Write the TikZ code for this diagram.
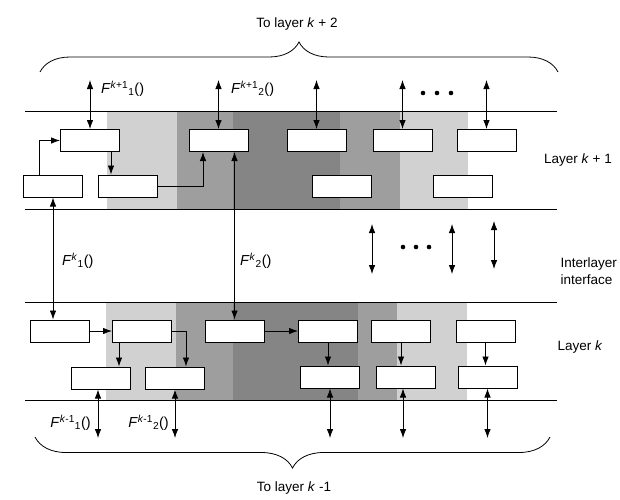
\documentclass[tikz,border=0pt]{standalone}
\usepackage{fontspec}
\setmainfont{Liberation Sans}
\usetikzlibrary{arrows.meta}
\usetikzlibrary{decorations.pathreplacing}

\begin{document}
\begin{tikzpicture}[x=1pt, y=-1pt, font=\fontsize{13.5}{17}\selectfont]
 \tikzstyle{fbox}=[rectangle, draw, fill=white, line width=1pt, minimum width=59pt, minimum height=22pt, inner sep=0pt]
 \tikzstyle{line}=[draw, line width=0.8pt, -{Latex[length=9pt, width=6.5pt]}]
 \tikzstyle{dline}=[draw, line width=0.8pt, {Latex[length=9pt, width=6.5pt]}-{Latex[length=9pt, width=6.5pt]}]
 \tikzstyle{layer}=[draw, line width=1pt]
 \tikzstyle{flabel}=[inner sep=0pt, font=\fontsize{14.5}{16}\selectfont]
 \colorlet{lightband}{black!18}
 \colorlet{midband}{black!38}
 \colorlet{darkband}{black!48}

 \useasboundingbox (0,0) rectangle (620,499);

 % shading, layer k+1
 \fill[lightband] (107,111) rectangle (177,209);
 \fill[midband] (177,111) rectangle (233,209);
 \fill[darkband] (233,111) rectangle (340,209);
 \fill[midband] (340,111) rectangle (400,209);
 \fill[lightband] (400,111) rectangle (468,209);
 % shading, layer k
 \fill[lightband] (106,302) rectangle (176,400);
 \fill[midband] (176,302) rectangle (233,400);
 \fill[darkband] (233,302) rectangle (358,400);
 \fill[midband] (358,302) rectangle (397,400);
 \fill[lightband] (397,302) rectangle (467,400);

 \draw[layer] (25,111) -- (557,111);
 \draw[layer] (25,209) -- (557,209);
 \draw[layer] (25,302) -- (557,302);
 \draw[layer] (25,400) -- (557,400);

 % layer k+1
 \node[fbox] (A) at (90,140.5) {};
 \node[fbox] (B) at (218.5,140.5) {};
 \node[fbox] (C) at (316.5,140.5) {};
 \node[fbox] (D) at (402.5,140.5) {};
 \node[fbox] (E) at (486.5,140.5) {};
 \node[fbox] (F) at (53,186) {};
 \node[fbox] (G) at (127.5,186) {};
 \node[fbox] (H) at (341.5,186) {};
 \node[fbox] (I) at (462.5,186) {};

 % layer k
 \node[fbox] (a) at (60,331) {};
 \node[fbox] (b) at (142,331) {};
 \node[fbox] (c) at (234.5,331) {};
 \node[fbox] (d) at (328,331) {};
 \node[fbox] (e) at (401,331) {};
 \node[fbox] (f) at (485.5,331) {};
 \node[fbox] (g) at (101,378) {};
 \node[fbox] (h) at (175,378) {};
 \node[fbox] (i) at (330,377) {};
 \node[fbox] (j) at (406,377) {};
 \node[fbox] (k) at (487.5,377) {};

 \coordinate (top) at (0,80);
 \coordinate (bot) at (0,438);

 % to layer k+2
 \path [dline] (A.north) -- (A.north |- top);
 \path [dline] (B.north) -- (B.north |- top);
 \path [dline] (C.north) -- (C.north |- top);
 \path [dline] (D.north) -- (D.north |- top);
 \path [dline] (E.north) -- (E.north |- top);
 \fill (423,93) circle (2.3pt);
 \fill (437,93) circle (2.3pt);
 \fill (451,93) circle (2.3pt);

 % inside layer k+1
 \path [line] ([xshift=-14pt]F.north) |- (A.west);
 \path [line] ([xshift=21pt]A.south) -- ([xshift=21pt]A.south |- G.north);
 \path [line] (G.east) -| ([xshift=-15.5pt]B.south);

 % interlayer interface
 \path [dline] (F.south) -- (F.south |- a.north);
 \path [dline] (c.north) -- (c.north |- B.south);
 \coordinate (m1) at (372,224);
 \coordinate (m2) at (452,224);
 \coordinate (m3) at (494,221);
 \path [dline] (m1) -- ++(0,50);
 \path [dline] (m2) -- ++(0,50);
 \path [dline] (m3) -- ++(0,48);
 \fill (403,247) circle (2.3pt);
 \fill (416,247) circle (2.3pt);
 \fill (429,247) circle (2.3pt);

 % inside layer k
 \path [line] (a.east) -- (b.west);
 \path [line] ([xshift=-23pt]b.south) -- ([xshift=-23pt]b.south |- g.north);
 \path [line] (b.east) -| ([xshift=11pt]h.north);
 \path [line] (c.east) -- (d.west);
 \path [line] (d.south) -- (d.south |- i.north);
 \path [line] (e.south) -- (e.south |- j.north);
 \path [line] (f.south) -- (f.south |- k.north);

 % to layer k-1
 \path [dline] ([xshift=-3pt]g.south) -- ([xshift=-3pt]g.south |- bot);
 \path [dline] (h.south) -- (h.south |- bot);
 \path [dline] (i.south) -- (i.south |- bot);
 \path [dline] ([xshift=-3pt]j.south) -- ([xshift=-3pt]j.south |- bot);
 \path [dline] (k.south) -- (k.south |- bot);

 % braces
 \draw[decorate, decoration={brace, amplitude=30pt}, line width=0.8pt] (40,72) -- (558,72);
 \draw[decorate, decoration={brace, amplitude=31pt}, line width=0.8pt] (550,437) -- (35,437);

 % labels
 \node (up) at (297,24) {To layer \textit{k} + 2};
 \node (down) at (294,488) {To layer \textit{k} -1};
 \node (lk1) at (578,160) {Layer \textit{k} + 1};
 \node (lk) at (580,347) {Layer \textit{k}};
 \node[anchor=west, align=left] (inter) at (557,271) {Interlayer\\interface};
 \node[flabel, anchor=west] at (101,89) {\textit{F}\textsuperscript{\textit{k}+1}\textsubscript{1}()};
 \node[flabel, anchor=west] at (231,89) {\textit{F}\textsuperscript{\textit{k}+1}\textsubscript{2}()};
 \node[flabel, anchor=west] at (62,261) {\textit{F}\textsuperscript{\textit{k}}\textsubscript{1}()};
 \node[flabel, anchor=west] at (240,261) {\textit{F}\textsuperscript{\textit{k}}\textsubscript{2}()};
 \node[flabel, anchor=east] at (91,423) {\textit{F}\textsuperscript{\textit{k}-1}\textsubscript{1}()};
 \node[flabel, anchor=east] at (169,423) {\textit{F}\textsuperscript{\textit{k}-1}\textsubscript{2}()};
\end{tikzpicture}
\end{document}
